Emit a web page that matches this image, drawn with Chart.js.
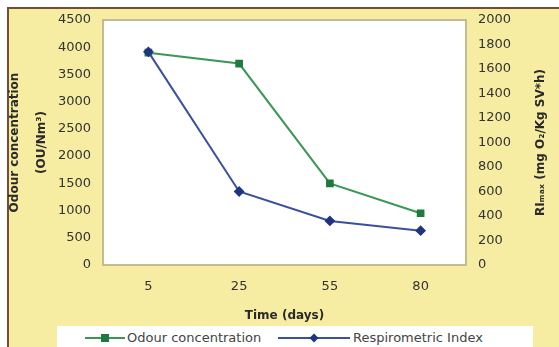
<!DOCTYPE html>
<html>
<head>
<meta charset="utf-8">
<script src="https://cdn.jsdelivr.net/npm/chart.js@4"></script>
<style>
  html, body { margin: 0; padding: 0; background: #ffffff; overflow: hidden; }
  #wrap { position: relative; width: 559px; height: 347px; }
  #legend {
    position: absolute; left: 57px; top: 326px; width: 476px; height: 30px;
    background: #ffffff; font-family: "DejaVu Sans", sans-serif; font-size: 13px; color: #444444;
  }
  #legend .item { position: absolute; top: 4px; height: 16px; line-height: 16px; white-space: nowrap; }
  #legend svg { position: absolute; top: 0; }
  #legend span { position: absolute; top: 0; }
</style>
</head>
<body>
<div id="wrap">
  <canvas id="mycanvas" width="559" height="347"></canvas>
  <div id="legend"></div>
</div>
<script>
var days = ["5", "25", "55", "80"];
var odour = [3900, 3700, 1500, 950];          // OU/Nm3, left axis
var respIndex = [1740, 600, 360, 280];        // mg O2/Kg SV*h, right axis
var odourTicks = [0, 4500, 500];
var riTicks = [0, 2000, 200];
var rightTitle = "RI\u2098\u2090\u2093 (mg O\u2082/Kg SV*h)";

var green = "#3a9758", greenDark = "#1f7a3d";
var blue = "#3b4fa0", blueDark = "#1f3580";
var yellow = "#f6eca2";

// page frame, yellow panel and white plot box
var framePlugin = {
  id: "frame",
  beforeDraw: function(chart) {
    var c = chart.ctx, a = chart.chartArea;
    c.save();
    c.fillStyle = "#ffffff";
    c.fillRect(0, 0, chart.width, chart.height);
    c.fillStyle = yellow;
    c.fillRect(9, 9, chart.width - 9, chart.height - 9);
    c.fillStyle = "#7b4a32";
    c.fillRect(7, 7, chart.width - 7, 2);
    c.fillRect(7, 7, 2, chart.height - 7);
    c.fillStyle = "#ffffff";
    c.fillRect(a.left, a.top, a.right - a.left, a.bottom - a.top);
    c.strokeStyle = "#c2bb94";
    c.lineWidth = 2;
    c.strokeRect(a.left, a.top, a.right - a.left, a.bottom - a.top);
    c.restore();
  },
  // right axis title reads bottom-to-top like the left one
  afterDraw: function(chart) {
    var c = chart.ctx, a = chart.chartArea;
    c.save();
    c.translate(541, (a.top + a.bottom) / 2);
    c.rotate(-Math.PI / 2);
    c.font = "bold 12px 'DejaVu Sans'";
    c.fillStyle = "#2a2a2a";
    c.textAlign = "center";
    c.textBaseline = "middle";
    c.fillText(rightTitle, 0, 0);
    c.restore();
  }
};

var tickFont = { family: "DejaVu Sans", size: 13 };
var titleFont = { family: "DejaVu Sans", size: 12, weight: "bold" };
var plainNum = function(v) { return String(v); };

var ctx = document.getElementById("mycanvas");
var chart = new Chart(ctx, {
  type: "line",
  data: {
    labels: days,
    datasets: [
      {
        label: "Respirometric Index",
        data: respIndex,
        yAxisID: "y1",
        borderColor: blue,
        backgroundColor: blueDark,
        borderWidth: 2,
        pointStyle: "rectRot",
        pointRadius: 4,
        pointBorderColor: blueDark,
        pointBackgroundColor: blueDark,
        lineTension: 0
      },
      {
        label: "Odour concentration",
        data: odour,
        yAxisID: "y",
        borderColor: green,
        backgroundColor: greenDark,
        borderWidth: 2,
        pointStyle: "rect",
        pointRadius: 4,
        pointBorderColor: greenDark,
        pointBackgroundColor: greenDark,
        lineTension: 0
      }
    ]
  },
  options: {
    responsive: false,
    animation: false,
    layout: { padding: { left: 0, right: 0, top: 20, bottom: 0 } },
    plugins: { legend: { display: false }, tooltip: { enabled: false } },
    scales: {
      x: {
        offset: true,
        grid: { display: false, drawTicks: false },
        border: { display: false },
        ticks: { color: "#333333", font: tickFont, padding: 14 },
        title: { display: true, text: "Time (days)", color: "#2a2a2a", font: titleFont, padding: { top: 0, bottom: 24 } },
        afterFit: function(s) { s.height = 82; }
      },
      y: {
        position: "left",
        min: odourTicks[0], max: odourTicks[1],
        grid: { display: false, drawTicks: false },
        border: { display: false },
        ticks: { stepSize: odourTicks[2], color: "#333333", font: tickFont, padding: 12, callback: plainNum },
        title: {
          display: true,
          text: ["Odour concentration", "(OU/Nm\u00b3)"],
          color: "#2a2a2a",
          font: { family: "DejaVu Sans", size: 12, weight: "bold", lineHeight: 2.2 },
          padding: { top: 2, bottom: 0 }
        },
        afterFit: function(s) { s.width = 103; }
      },
      y1: {
        position: "right",
        min: riTicks[0], max: riTicks[1],
        grid: { display: false, drawTicks: false },
        border: { display: false },
        ticks: { stepSize: riTicks[2], color: "#333333", font: tickFont, padding: 12, callback: plainNum },
        title: { display: false },
        afterFit: function(s) { s.width = 93; }
      }
    }
  },
  plugins: [framePlugin]
});

// html legend: line + marker + text
var legendItems = [
  { text: "Odour concentration", color: green, dark: greenDark, marker: "rect", lineX: 28, lineW: 40, textX: 70 },
  { text: "Respirometric Index", color: blue, dark: blueDark, marker: "diamond", lineX: 221, lineW: 72, textX: 296 }
];
var legend = document.getElementById("legend");
legendItems.forEach(function(it) {
  var d = document.createElement("div");
  d.className = "item";
  d.style.left = "0px";
  var cx = it.lineX + it.lineW / 2;
  var mark = it.marker === "rect"
    ? '<rect x="' + (cx - 4) + '" y="4" width="8" height="8" fill="' + it.dark + '"/>'
    : '<polygon points="' + cx + ',3.5 ' + (cx + 4.5) + ',8 ' + cx + ',12.5 ' + (cx - 4.5) + ',8" fill="' + it.dark + '"/>';
  d.innerHTML = '<svg width="' + (it.lineX + it.lineW + 2) + '" height="16"><line x1="' + it.lineX + '" y1="8" x2="' + (it.lineX + it.lineW) +
    '" y2="8" stroke="' + it.color + '" stroke-width="2"/>' + mark + '</svg><span style="left:' + it.textX + 'px">' + it.text + '</span>';
  legend.appendChild(d);
});
</script>
</body>
</html>
